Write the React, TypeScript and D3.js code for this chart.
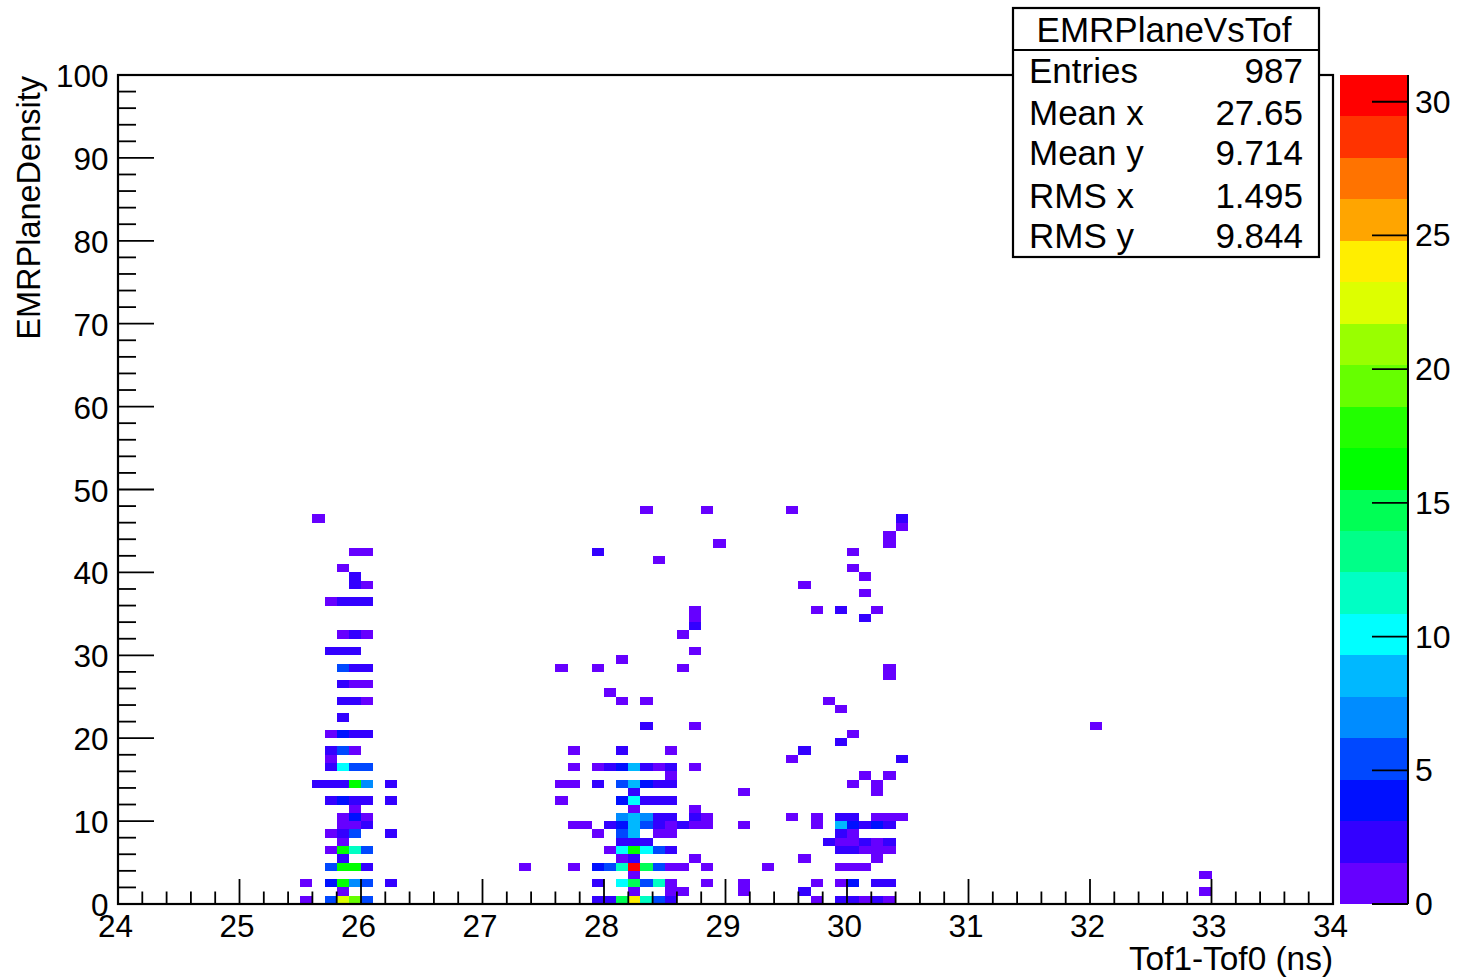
import React from "react";
import * as d3 from "d3";

// Histogram axes
const xDomain = [24, 34];
const yDomain = [0, 100];
const zDomain = [0, 31];
const binWidthX = 0.1;
const binWidthY = 1;
const xMajorTicks = [24, 25, 26, 27, 28, 29, 30, 31, 32, 33, 34];
const yMajorTicks = [0, 10, 20, 30, 40, 50, 60, 70, 80, 90, 100];
const zTicks = [0, 5, 10, 15, 20, 25, 30];
const palette = [
  "#6600FF", "#3300FF", "#0010FF", "#0048FF", "#008CFF", "#00B8FF", "#00FFFF", "#00FFC4", "#00FF88", "#00FF55",
  "#00FF00", "#22FF00", "#66FF00", "#99FF00", "#DDFF00", "#FFEE00", "#FFA500", "#FF7300", "#FF3300", "#FF0000",
];

// [x bin, y bin, entries]
const clusterNear26: number[][] = [
  [15, 0, 1], [17, 0, 5], [18, 0, 22], [19, 0, 20], [20, 0, 5],
  [18, 1, 1],
  [15, 2, 1], [17, 2, 4], [18, 2, 16], [19, 2, 7], [20, 2, 5], [22, 2, 2],
  [17, 4, 5], [18, 4, 16], [19, 4, 16], [20, 4, 2],
  [18, 5, 2],
  [17, 6, 1], [18, 6, 16], [19, 6, 12], [20, 6, 5],
  [18, 7, 1],
  [17, 8, 1], [18, 8, 2], [19, 8, 5], [22, 8, 2],
  [18, 9, 1], [19, 9, 1], [20, 9, 2],
  [18, 10, 1], [19, 10, 4], [20, 10, 1],
  [19, 11, 1],
  [17, 12, 2], [18, 12, 4], [19, 12, 2], [20, 12, 2], [22, 12, 2],
  [16, 14, 2], [17, 14, 2], [18, 14, 2], [19, 14, 16], [20, 14, 7], [22, 14, 2],
  [17, 16, 2], [18, 16, 10], [19, 16, 5], [20, 16, 5],
  [17, 17, 1],
  [17, 18, 2], [18, 18, 5], [19, 18, 1],
  [17, 20, 1], [18, 20, 4], [19, 20, 2], [20, 20, 2],
  [18, 22, 2],
  [18, 24, 2], [19, 24, 2], [20, 24, 1],
  [18, 26, 2], [19, 26, 1], [20, 26, 1],
  [18, 28, 5], [19, 28, 2], [20, 28, 2],
  [17, 30, 2], [18, 30, 2], [19, 30, 2],
  [18, 32, 1], [19, 32, 2], [20, 32, 1],
  [17, 36, 1], [18, 36, 2], [19, 36, 2], [20, 36, 2],
  [19, 38, 2], [20, 38, 1],
  [19, 39, 2],
  [18, 40, 1],
  [19, 42, 1], [20, 42, 1],
  [16, 46, 1],
];

const clusterNear28: number[][] = [
  [39, 0, 2], [40, 0, 2], [41, 0, 15], [42, 0, 24], [43, 0, 12], [44, 0, 5], [45, 0, 2],
  [42, 1, 1], [45, 1, 1], [46, 1, 1], [51, 1, 1],
  [39, 2, 2], [41, 2, 10], [42, 2, 15], [43, 2, 5], [44, 2, 12], [45, 2, 1], [48, 2, 1], [51, 2, 1],
  [42, 3, 1],
  [33, 4, 1], [37, 4, 1], [39, 4, 4], [40, 4, 5], [41, 4, 12], [42, 4, 31], [43, 4, 15], [44, 4, 5], [45, 4, 1], [46, 4, 1], [48, 4, 1],
  [41, 5, 1], [42, 5, 2], [47, 5, 1],
  [40, 6, 1], [41, 6, 10], [42, 6, 16], [43, 6, 10], [44, 6, 5], [45, 6, 2],
  [41, 7, 2], [42, 7, 2], [43, 7, 2],
  [39, 8, 1], [41, 8, 5], [42, 8, 8], [44, 8, 1], [45, 8, 1],
  [37, 9, 1], [38, 9, 1], [40, 9, 2], [41, 9, 4], [42, 9, 8], [43, 9, 5], [44, 9, 2], [45, 9, 1], [46, 9, 2], [47, 9, 1], [48, 9, 1], [51, 9, 1],
  [41, 10, 7], [42, 10, 8], [43, 10, 7], [44, 10, 2], [45, 10, 2], [47, 10, 2], [48, 10, 1],
  [42, 11, 1], [47, 11, 1],
  [36, 12, 1], [41, 12, 4], [42, 12, 10], [43, 12, 2], [44, 12, 2], [45, 12, 2],
  [42, 13, 2], [51, 13, 1],
  [36, 14, 1], [37, 14, 1], [39, 14, 2], [41, 14, 5], [42, 14, 8], [43, 14, 4], [44, 14, 2], [45, 14, 2],
  [45, 15, 1],
  [37, 16, 1], [39, 16, 1], [40, 16, 2], [41, 16, 4], [42, 16, 8], [43, 16, 2], [44, 16, 1], [45, 16, 2], [47, 16, 1],
  [37, 18, 1], [41, 18, 2], [45, 18, 1],
  [43, 21, 2], [47, 21, 1],
  [41, 24, 1], [43, 24, 1],
  [40, 25, 1],
  [36, 28, 1], [39, 28, 1], [46, 28, 1],
  [41, 29, 1],
  [47, 30, 1],
  [46, 32, 1],
  [47, 33, 2], [47, 34, 1], [47, 35, 1],
  [44, 41, 1],
  [39, 42, 2],
  [49, 43, 1],
  [43, 47, 1], [48, 47, 1],
];

const clusterNear30: number[][] = [
  [57, 0, 1], [59, 0, 2], [60, 0, 2], [61, 0, 1], [62, 0, 2], [63, 0, 1],
  [56, 1, 2],
  [57, 2, 1], [59, 2, 1], [60, 2, 4], [62, 2, 2], [63, 2, 2],
  [53, 4, 1], [59, 4, 1], [60, 4, 1], [61, 4, 1],
  [56, 5, 1], [62, 5, 1],
  [59, 6, 2], [60, 6, 2], [61, 6, 1], [62, 6, 1], [63, 6, 1],
  [58, 7, 2], [59, 7, 1], [60, 7, 1], [61, 7, 2], [62, 7, 1], [63, 7, 2],
  [59, 8, 2], [60, 8, 1],
  [57, 9, 1], [59, 9, 8], [60, 9, 4], [61, 9, 2], [62, 9, 4], [63, 9, 2],
  [55, 10, 1], [57, 10, 1], [59, 10, 2], [60, 10, 2], [62, 10, 1], [63, 10, 1], [64, 10, 1],
  [62, 13, 1],
  [60, 14, 1], [62, 14, 1],
  [61, 15, 1], [63, 15, 1],
  [55, 17, 1], [64, 17, 2],
  [56, 18, 2],
  [59, 19, 2],
  [60, 20, 1],
  [59, 23, 1],
  [58, 24, 1],
  [63, 27, 1], [63, 28, 1],
  [61, 34, 2],
  [57, 35, 1], [59, 35, 2], [62, 35, 1],
  [61, 37, 1],
  [56, 38, 1],
  [61, 39, 1],
  [60, 40, 1],
  [60, 42, 1],
  [63, 43, 1], [63, 44, 1],
  [64, 45, 1], [64, 46, 2],
  [55, 47, 1],
];

const strayCells: number[][] = [
  [80, 21, 1],
  [89, 1, 1], [89, 3, 1],
];

const statsTitle = "EMRPlaneVsTof";
const statsNames = ["Entries", "Mean x", "Mean y", "RMS x", "RMS y"];
const statsValues = ["987", "27.65", "9.714", "1.495", "9.844"];
const xTitle = "Tof1-Tof0 (ns)";
const yTitle = "EMRPlaneDensity";

const FONT = "'Liberation Sans', Arial, Helvetica, sans-serif";

export default function App() {
  const left = 118, right = 1333, top = 75, bottom = 904;
  const x = d3.scaleLinear().domain(xDomain).range([left, right]);
  const y = d3.scaleLinear().domain(yDomain).range([bottom, top]);
  const barLeft = 1340, barRight = 1408;
  const z = d3.scaleLinear().domain(zDomain).range([bottom, top]);
  const colour = d3.scaleQuantize<string>().domain(zDomain).range(palette);

  const cells = [...clusterNear26, ...clusterNear28, ...clusterNear30, ...strayCells];
  const xMinor = d3.range(xDomain[0], xDomain[1] + 0.001, 0.2).filter((v) => Math.abs(v - Math.round(v)) > 0.01);
  const yMinor = d3.range(yDomain[0], yDomain[1], 2).filter((v) => v % 10 !== 0);
  const bandStep = (zDomain[1] - zDomain[0]) / palette.length;

  const statRowsY = [83, 125, 165, 208, 248];

  return (
    <svg
      width={1460}
      height={979}
      viewBox="0 0 1460 979"
      style={{ position: "absolute", left: 0, top: 0, display: "block", background: "#fff" }}
      fontFamily={FONT}
      fill="#000"
    >
      <g shapeRendering="crispEdges">
        {cells.map(([bx, by, n], i) => (
          <rect
            key={i}
            x={x(xDomain[0] + bx * binWidthX)}
            y={y(by + binWidthY)}
            width={x(xDomain[0] + binWidthX) - x(xDomain[0])}
            height={y(0) - y(binWidthY)}
            fill={colour(n)}
          />
        ))}
      </g>

      {/* minor and major ticks */}
      <g stroke="#000">
        {xMinor.map((v) => (
          <line key={v} x1={x(v)} x2={x(v)} y1={bottom} y2={bottom - 12.5} strokeWidth={1.8} />
        ))}
        {xMajorTicks.map((v) => (
          <line key={v} x1={x(v)} x2={x(v)} y1={bottom} y2={bottom - 25} strokeWidth={1.8} />
        ))}
        {yMinor.map((v) => (
          <line key={v} x1={left} x2={left + 18} y1={y(v)} y2={y(v)} strokeWidth={1.8} />
        ))}
        {yMajorTicks.map((v) => (
          <line key={v} x1={left} x2={left + 36} y1={y(v)} y2={y(v)} strokeWidth={1.8} />
        ))}
      </g>
      <rect x={left} y={top} width={right - left} height={bottom - top} fill="none" stroke="#000" strokeWidth={2.2} />

      {/* axis labels */}
      <g fontSize={31.5}>
        {xMajorTicks.map((v) => (
          <text key={v} x={x(v) - 2.5} y={937} textAnchor="middle">
            {v}
          </text>
        ))}
        {yMajorTicks.map((v) => (
          <text key={v} x={108.5} y={y(v) + 12} textAnchor="end">
            {v}
          </text>
        ))}
      </g>
      <text x={1333} y={970} textAnchor="end" fontSize={33.4}>
        {xTitle}
      </text>
      <text transform="translate(40,76) rotate(-90)" textAnchor="end" fontSize={32.5}>
        {yTitle}
      </text>

      {/* colour bar */}
      <g shapeRendering="crispEdges">
        {palette.map((c, i) => (
          <rect
            key={c}
            x={barLeft}
            width={barRight - barLeft}
            y={z(zDomain[0] + (i + 1) * bandStep)}
            height={z(zDomain[0] + i * bandStep) - z(zDomain[0] + (i + 1) * bandStep)}
            fill={c}
          />
        ))}
      </g>
      <line x1={barRight} x2={barRight} y1={top} y2={bottom} stroke="#000" strokeWidth={2} />
      <g fontSize={32}>
        {zTicks.map((v) => (
          <g key={v}>
            <line x1={barRight - 36} x2={barRight} y1={z(v)} y2={z(v)} stroke="#000" strokeWidth={1.8} />
            <text x={1415} y={z(v) + 11}>
              {v}
            </text>
          </g>
        ))}
      </g>

      {/* stats box */}
      <rect x={1013} y={8} width={306} height={249} fill="#fff" stroke="#000" strokeWidth={2.2} />
      <line x1={1013} x2={1319} y1={50} y2={50} stroke="#000" strokeWidth={2.2} />
      <g fontSize={35}>
        <text x={1164} y={42} textAnchor="middle">
          {statsTitle}
        </text>
        {statsNames.map((name, i) => (
          <text key={name} x={1029} y={statRowsY[i]}>
            {name}
          </text>
        ))}
        {statsValues.map((val, i) => (
          <text key={i} x={1303} y={statRowsY[i]} textAnchor="end">
            {val}
          </text>
        ))}
      </g>
    </svg>
  );
}
